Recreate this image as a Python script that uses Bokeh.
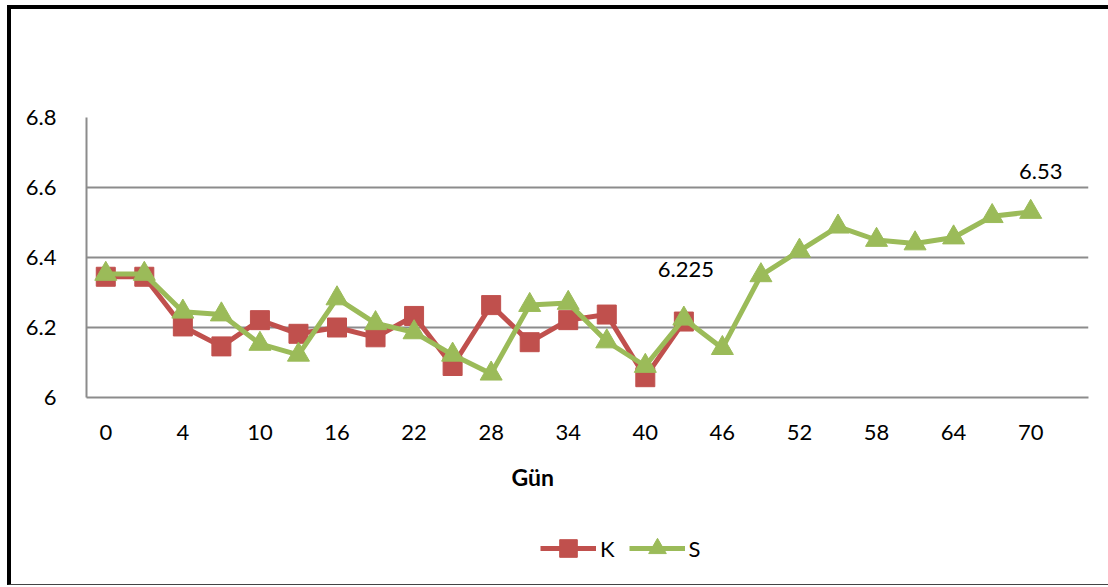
from bokeh.plotting import figure
from bokeh.models import (Range1d, FixedTicker, NumeralTickFormatter, Legend, LegendItem,
                          ColumnDataSource, Column, Title)
from bokeh.core.properties import value
from bokeh.embed import file_html
from bokeh.resources import INLINE

# ---- data ----
days = ["0", "2", "4", "7", "10", "13", "16", "19", "22", "25", "28", "31", "34",
        "37", "40", "43", "46", "49", "52", "55", "58", "61", "64", "67", "70"]
k_values = [6.345, 6.345, 6.203, 6.146, 6.221, 6.182, 6.200, 6.172, 6.233, 6.090,
            6.264, 6.158, 6.221, 6.237, 6.058, 6.217]
s_values = [6.353, 6.353, 6.245, 6.237, 6.153, 6.122, 6.283, 6.212, 6.186, 6.122,
            6.068, 6.264, 6.270, 6.160, 6.090, 6.225, 6.141, 6.349, 6.419, 6.488,
            6.450, 6.440, 6.457, 6.518, 6.530]
label_index = [15, 24]
y_ticks = [6.0, 6.2, 6.4, 6.6, 6.8]
series_names = ["K", "S"]
x_title = "Gün"

FONT = "Lato"
RED = "#C0504D"
GREEN = "#9BBB59"
GRID = "#8C8C8C"

p = figure(width=1097, height=500, output_backend="svg", toolbar_location=None,
           x_range=Range1d(-0.5, 25.5), y_range=Range1d(6.0, 6.8),
           min_border_left=75, min_border_right=20, min_border_top=108,
           min_border_bottom=109)
p.outline_line_color = None
p.background_fill_color = "white"
p.border_fill_color = "white"

# axes
xa = p.xaxis[0]
xa.ticker = FixedTicker(ticks=list(range(0, len(days), 2)))
xa.major_label_overrides = {i: days[i] for i in range(0, len(days), 2)}
xa.major_tick_line_color = None
xa.minor_tick_line_color = None
xa.axis_line_color = GRID
xa.axis_line_width = 2
xa.major_label_text_font = FONT
xa.major_label_text_font_size = "22px"
xa.major_label_text_color = "black"
xa.major_label_standoff = 21

# x-axis title, placed off-centre as in the original
p.add_layout(Title(text=x_title, align="left", offset=425, standoff=37,
                   text_font=FONT, text_font_style="bold", text_font_size="23px",
                   text_color="black"), "below")

ya = p.yaxis[0]
ya.ticker = FixedTicker(ticks=y_ticks)
ya.formatter = NumeralTickFormatter(format="0.[0]")
ya.major_tick_line_color = None
ya.minor_tick_line_color = None
ya.axis_line_color = GRID
ya.axis_line_width = 2
ya.major_label_text_font = FONT
ya.major_label_text_font_size = "22px"
ya.major_label_text_color = "black"
ya.major_label_standoff = 24

p.xgrid.grid_line_color = None
p.ygrid.ticker = FixedTicker(ticks=y_ticks)
p.ygrid.grid_line_color = GRID
p.ygrid.grid_line_width = 2

# series
kx = list(range(len(k_values)))
sx = list(range(len(s_values)))
p.line(kx, k_values, line_color=RED, line_width=5)
p.scatter(kx, k_values, marker="square", size=19, fill_color=RED, line_color=RED)
p.line(sx, s_values, line_color=GREEN, line_width=5)
p.scatter(sx, s_values, marker="triangle", size=22, fill_color=GREEN, line_color=GREEN)

# data labels
lab = ColumnDataSource(dict(
    x=label_index,
    y=[s_values[i] for i in label_index],
    t=[f"{s_values[i]:g}" for i in label_index],
    dx=[2, 10],
    dy=[-49, -41],
))
p.text("x", "y", text="t", x_offset="dx", y_offset="dy", source=lab,
       text_font=value(FONT), text_font_size="22px", text_color="black",
       text_align="center", text_baseline="middle")

# ---- legend strip (separate small canvas below the chart) ----
# series renderers here lie outside this strip's view; they only feed the legend glyphs
q = figure(width=1097, height=75, output_backend="svg", toolbar_location=None,
           x_range=Range1d(-0.5, 25.5), y_range=Range1d(0, 1),
           min_border_left=0, min_border_right=0, min_border_top=0, min_border_bottom=0)
q.axis.visible = False
q.grid.visible = False
q.outline_line_color = None
q.border_fill_color = "white"
ql_k = q.line(kx, k_values, line_color=RED, line_width=5)
qs_k = q.scatter(kx, k_values, marker="square", fill_color=RED, line_color=RED)
ql_s = q.line(sx, s_values, line_color=GREEN, line_width=5)
qs_s = q.scatter(sx, s_values, marker="triangle", fill_color=GREEN, line_color=GREEN)

legend = Legend(items=[LegendItem(label=series_names[0], renderers=[ql_k, qs_k]),
                       LegendItem(label=series_names[1], renderers=[ql_s, qs_s])],
                orientation="horizontal", location=(454, 14),
                glyph_width=56, glyph_height=44, label_standoff=4, spacing=14,
                label_width=12,
                padding=0, margin=0, border_line_color=None,
                background_fill_alpha=0,
                label_text_font=FONT, label_text_font_size="22px",
                label_text_color="black")
q.add_layout(legend, "center")

page = Column(children=[p, q], spacing=0, styles={
    "margin-left": "7px", "margin-top": "5px",
    "border-left": "4px solid black", "border-top": "4px solid black",
    "border-bottom": "1px solid #444444",
})

open("out.html", "w").write(file_html(page, INLINE))
